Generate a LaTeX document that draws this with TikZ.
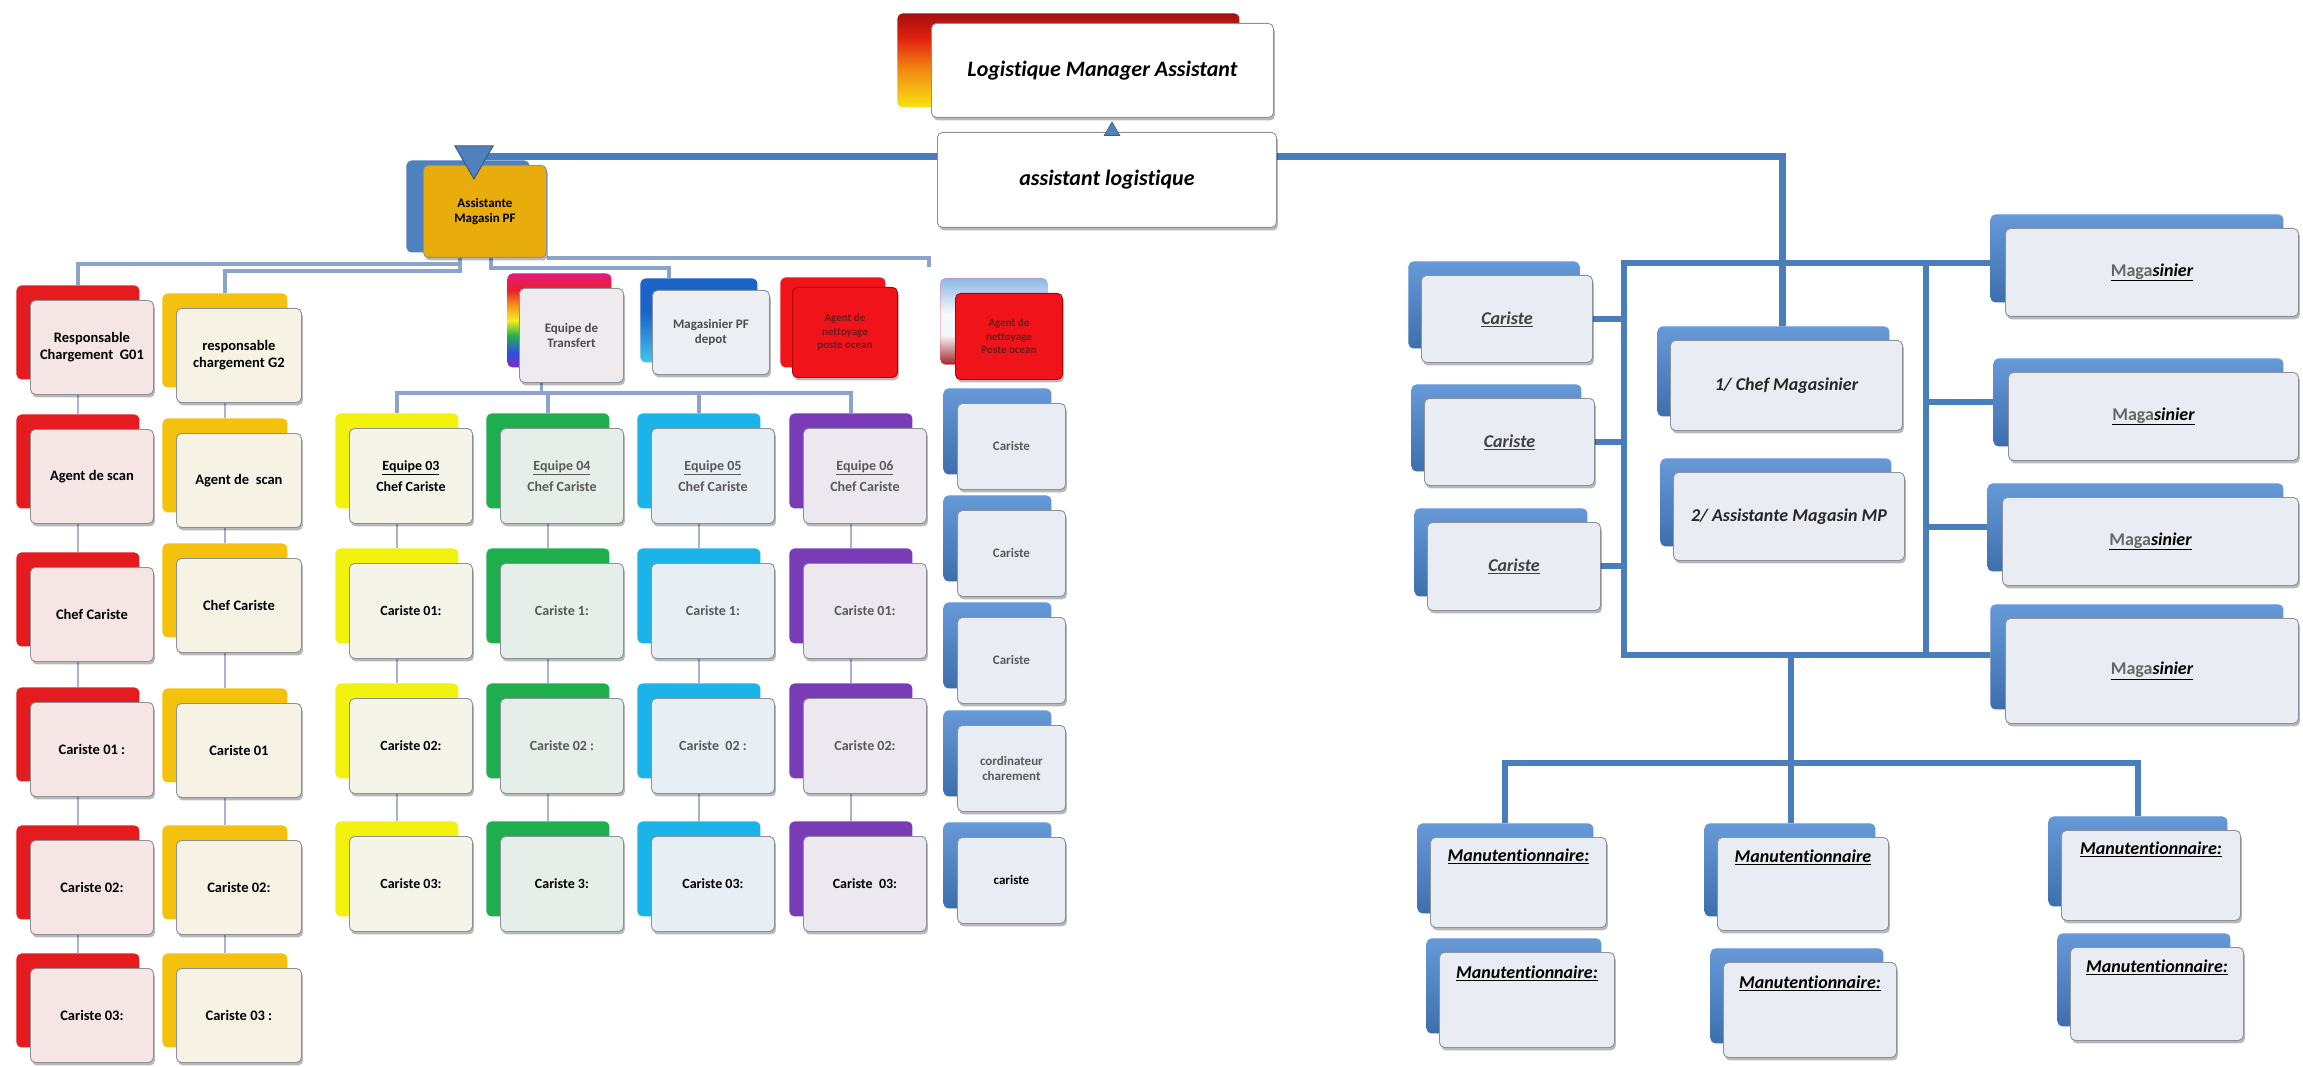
\documentclass[tikz,border=0pt]{standalone}
\usepackage{fontspec}
\setmainfont{Carlito}[Ligatures=NoCommon]
\usetikzlibrary{shadows,shapes.geometric,backgrounds}

% ---------- colours ----------
\definecolor{spineblue}{HTML}{4A7EBB}
\definecolor{busblue}{HTML}{8CA3CB}
\definecolor{tickblue}{HTML}{A7B5D3}
\definecolor{cardedge}{HTML}{8C9199}
\definecolor{cRed}{HTML}{E41B1F}
\definecolor{cRedF}{HTML}{F6E5E5}
\definecolor{cGold}{HTML}{F4C20D}
\definecolor{cGoldF}{HTML}{F6F3E5}
\definecolor{cYel}{HTML}{F2F20E}
\definecolor{cYelF}{HTML}{F4F4E8}
\definecolor{cGreen}{HTML}{1FAE4E}
\definecolor{cGreenF}{HTML}{E6EEEA}
\definecolor{cCyan}{HTML}{1CB3E8}
\definecolor{cCyanF}{HTML}{E7EEF4}
\definecolor{cPurp}{HTML}{7A3CB6}
\definecolor{cPurpF}{HTML}{EBE8EF}
\definecolor{cBlue}{HTML}{4F81BD}
\definecolor{cBlueTop}{HTML}{6699D8}
\definecolor{cBlueBot}{HTML}{3E6FAD}
\definecolor{cBlueF}{HTML}{E9EDF3}
\definecolor{cPinkF}{HTML}{EFEAEE}
\definecolor{cDepotF}{HTML}{EDEEF3}
\definecolor{cOrange}{HTML}{E8AC0D}
\definecolor{agentred}{HTML}{F0131A}
\definecolor{agenttxt}{HTML}{6E1C1C}
\definecolor{rbViolet}{HTML}{7B2FBE}
\definecolor{rbBlue}{HTML}{2F4FE0}
\definecolor{rbGreen}{HTML}{22B14C}
\definecolor{rbYellow}{HTML}{F5EF1A}
\definecolor{rbOrange}{HTML}{F7941D}
\definecolor{rbRed}{HTML}{E8202A}
\definecolor{rbPink}{HTML}{E6197F}
\definecolor{fireTop}{HTML}{A50F0F}
\definecolor{fireRed}{HTML}{E0200F}
\definecolor{fireOrange}{HTML}{F38A12}
\definecolor{fireYellow}{HTML}{F7E312}
\definecolor{skyTop}{HTML}{8DB8E6}
\definecolor{skyMid}{HTML}{F4F7FB}
\definecolor{skyRed}{HTML}{A0262B}
\definecolor{depotTop}{HTML}{1A64C8}
\definecolor{depotBot}{HTML}{46C3F0}

% ---------- shadings for the coloured back cards ----------
\pgfdeclareverticalshading{rainbowband}{100bp}{color(0bp)=(rbViolet); color(25bp)=(rbViolet); color(33bp)=(rbBlue); color(42bp)=(rbGreen); color(50bp)=(rbYellow); color(58bp)=(rbOrange); color(66bp)=(rbRed); color(75bp)=(rbPink); color(100bp)=(rbPink)}
\pgfdeclareverticalshading{fireband}{100bp}{color(0bp)=(fireYellow); color(25bp)=(fireYellow); color(45bp)=(fireOrange); color(62bp)=(fireRed); color(75bp)=(fireTop); color(100bp)=(fireTop)}
\pgfdeclareverticalshading{skyred}{100bp}{color(0bp)=(skyRed); color(25bp)=(skyRed); color(42bp)=(skyMid); color(55bp)=(skyMid); color(75bp)=(skyTop); color(100bp)=(skyTop)}
\pgfdeclareverticalshading{depotband}{100bp}{color(0bp)=(depotBot); color(25bp)=(depotBot); color(55bp)=(depotTop); color(75bp)=(depotTop); color(100bp)=(depotTop)}

% ---------- fonts ----------
\newcommand\fLeft{\bfseries\fontsize{14.5}{17}\selectfont}
\newcommand\fTeam{\bfseries\fontsize{14}{16.5}\selectfont}
\newcommand\fSmall{\bfseries\fontsize{13}{15.5}\selectfont}
\newcommand\fAgent{\bfseries\fontsize{11}{13.5}\selectfont}
\newcommand\fRight{\bfseries\itshape\fontsize{18}{21}\selectfont}
\newcommand\fTop{\bfseries\itshape\fontsize{22}{26}\selectfont}
\newcommand\magword{\underline{{\upshape\color{black!60}Maga}sinier}}

% one card: style, name, top-left corner, width, height, text
\newcommand\crd[6]{\node[#1,minimum width=#4pt,minimum height=#5pt,anchor=north west] (#2) at (#3) {#6};}

\pgfdeclarelayer{paper}
\pgfsetlayers{paper,background,main}

\tikzset{
  card/.style={draw=cardedge, line width=0.9pt, rounded corners=5pt, align=center,
    inner sep=2pt, drop shadow={shadow xshift=1.5pt, shadow yshift=-3pt, opacity=0.28, fill=black}},
  behind/.style n args={3}{copy shadow={shadow xshift=#1, shadow yshift=#2, draw=none, #3}},
  redcard/.style={behind={-14pt}{15pt}{fill=cRed}, card, fill=cRedF, font=\fLeft},
  goldcard/.style={behind={-14pt}{15pt}{fill=cGold}, card, fill=cGoldF, font=\fLeft},
  yelcard/.style={behind={-14pt}{15pt}{fill=cYel}, card, fill=cYelF, font=\fTeam},
  greencard/.style={behind={-14pt}{15pt}{fill=cGreen}, card, fill=cGreenF, font=\fTeam},
  cyancard/.style={behind={-14pt}{15pt}{fill=cCyan}, card, fill=cCyanF, font=\fTeam},
  purpcard/.style={behind={-14pt}{15pt}{fill=cPurp}, card, fill=cPurpF, font=\fTeam},
  bluecard/.style={behind={-14pt}{15pt}{top color=cBlueTop, bottom color=cBlueBot}, card, fill=cBlueF, font=\fSmall},
  rcard/.style={behind={-13pt}{14pt}{top color=cBlueTop, bottom color=cBlueBot}, card, fill=cBlueF, font=\fRight},
  mgcard/.style={behind={-15pt}{14pt}{top color=cBlueTop, bottom color=cBlueBot}, card, fill=cBlueF, font=\fRight},
  mtext/.style={text height=14pt, text depth=56pt},
  topcard/.style={behind={-34pt}{10pt}{shade, shading=fireband}, card, fill=white, font=\fTop},
  ampcard/.style={behind={-17pt}{5pt}{fill=cBlue}, card, fill=cOrange, font=\fSmall},
  transfercard/.style={behind={-12pt}{15pt}{shade, shading=rainbowband}, card, fill=cPinkF, font=\fSmall, text=black!70},
  depotcard/.style={behind={-12pt}{12pt}{shade, shading=depotband}, card, fill=cDepotF, font=\fSmall, text=black!70},
  agentcard/.style={behind={-12pt}{10pt}{fill=agentred}, card, draw=red!70!black, fill=agentred, font=\fAgent, text=agenttxt},
  agentcardb/.style={behind={-15pt}{15pt}{shade, shading=skyred}, card, draw=red!70!black, fill=agentred, font=\fAgent, text=agenttxt},
  blurtext/.style={text=black!65},
  downtri/.style={regular polygon, regular polygon sides=3, shape border rotate=180, minimum size=44pt,
    inner sep=0pt, fill=cBlue, draw=cBlue!70!black, line width=1pt},
  uptri/.style={regular polygon, regular polygon sides=3, minimum size=18pt,
    inner sep=0pt, fill=cBlue, draw=cBlue!70!black, line width=0.6pt},
  topspine/.style={draw=spineblue, line width=7pt},
  spine/.style={draw=spineblue, line width=6pt},
  bus/.style={draw=busblue, line width=3.5pt},
  tick/.style={draw=tickblue, line width=2.5pt}
}

\begin{document}
\begin{tikzpicture}[x=1pt,y=-1pt]
\begin{pgfonlayer}{paper}
  \fill[white] (0,0) rectangle (2303,1067);
\end{pgfonlayer}
\useasboundingbox (0,0) rectangle (2303,1067);

% ---------- head ----------
\crd{topcard}{lma}{931,23}{342}{94}{Logistique Manager Assistant}
\crd{card,fill=white,font=\fTop}{al}{937,132}{339}{95}{assistant logistique}
\node[uptri] (altri) at (1112,131) {};

\crd{ampcard}{amp}{423,165}{123}{92}{Assistante\\Magasin PF}
\node[downtri] (tri) at (474,157) {};

% ---------- loading groups ----------
\crd{redcard}{r1}{30,300}{123}{94}{Responsable\\Chargement~~G01}
\crd{redcard}{r2}{30,429}{123}{94}{Agent de scan}
\crd{redcard}{r3}{30,567}{123}{94}{Chef Cariste}
\crd{redcard}{r4}{30,702}{123}{94}{Cariste 01 :}
\crd{redcard}{r5}{30,840}{123}{94}{Cariste 02:}
\crd{redcard}{r6}{30,968}{123}{94}{Cariste 03:}

\crd{goldcard}{g1}{176,308}{125}{94}{responsable\\chargement G2}
\crd{goldcard}{g2}{176,433}{125}{94}{Agent de~~scan}
\crd{goldcard}{g3}{176,558}{125}{94}{Chef Cariste}
\crd{goldcard}{g4}{176,703}{125}{94}{Cariste 01}
\crd{goldcard}{g5}{176,840}{125}{94}{Cariste 02:}
\crd{goldcard}{g6}{176,968}{125}{94}{Cariste 03 :}

% ---------- transfer and depot ----------
\crd{transfercard}{et}{519,288}{104}{94}{Equipe de\\Transfert}
\crd{depotcard}{mpf}{652,290}{117}{84}{Magasinier PF\\depot}
\crd{agentcard}{an1}{792,287}{105}{90}{Agent de\\nettoyage\\poste ocean}
\crd{agentcardb}{an2}{955,293}{107}{86}{Agent de\\nettoyage\\Poste ocean}

% ---------- transfer teams ----------
\crd{yelcard}{ya1}{349,428}{123}{95}{\underline{Equipe 03}\\[4pt]Chef Cariste}
\crd{yelcard}{ya2}{349,563}{123}{95}{Cariste 01:}
\crd{yelcard}{ya3}{349,698}{123}{95}{Cariste 02:}
\crd{yelcard}{ya4}{349,836}{123}{95}{Cariste 03:}

\crd{greencard,blurtext}{ga1}{500,428}{123}{95}{\underline{Equipe 04}\\[4pt]Chef Cariste}
\crd{greencard,blurtext}{ga2}{500,563}{123}{95}{Cariste 1:}
\crd{greencard,blurtext}{ga3}{500,698}{123}{95}{Cariste 02 :}
\crd{greencard}{ga4}{500,836}{123}{95}{Cariste 3:}

\crd{cyancard,blurtext}{ca1x}{651,428}{123}{95}{\underline{Equipe 05}\\[4pt]Chef Cariste}
\crd{cyancard,blurtext}{ca2x}{651,563}{123}{95}{Cariste 1:}
\crd{cyancard,blurtext}{ca3x}{651,698}{123}{95}{Cariste~~02 :}
\crd{cyancard}{ca4x}{651,836}{123}{95}{Cariste 03:}

\crd{purpcard,blurtext}{pa1}{803,428}{123}{95}{\underline{Equipe 06}\\[4pt]Chef Cariste}
\crd{purpcard,blurtext}{pa2}{803,563}{123}{95}{Cariste 01:}
\crd{purpcard,blurtext}{pa3}{803,698}{123}{95}{Cariste 02:}
\crd{purpcard}{pa4}{803,836}{123}{95}{Cariste~~03:}

% ---------- blue column ----------
\crd{bluecard,blurtext}{b1}{957,403}{108}{86}{Cariste}
\crd{bluecard,blurtext}{b2}{957,510}{108}{86}{Cariste}
\crd{bluecard,blurtext}{b3}{957,617}{108}{86}{Cariste}
\crd{bluecard,blurtext}{b4}{957,725}{108}{86}{cordinateur\\charement}
\crd{bluecard}{b5}{957,837}{108}{86}{cariste}

% ---------- raw material store ----------
\crd{rcard,text=black!75}{ca1}{1421,275}{171}{87}{\underline{Cariste}}
\crd{rcard,text=black!75}{ca2}{1424,398}{170}{87}{\underline{Cariste}}
\crd{rcard,text=black!75}{ca3}{1427,522}{173}{88}{\underline{Cariste}}
\crd{rcard,text=black!85}{chef}{1670,340}{232}{90}{1/ Chef Magasinier}
\crd{rcard,text=black!85}{mpasst}{1673,472}{231}{88}{2/ Assistante Magasin MP}
\crd{mgcard}{mg1}{2005,228}{293}{88}{\magword}
\crd{mgcard}{mg2}{2008,372}{290}{88}{\magword}
\crd{mgcard}{mg3}{2002,497}{296}{88}{\magword}
\crd{mgcard}{mg4}{2005,618}{293}{105}{\magword}

\crd{rcard,mtext}{mt1}{1430,837}{176}{90}{\underline{Manutentionnaire:}}
\crd{rcard,mtext}{mt1b}{1439,952}{175}{95}{\underline{Manutentionnaire:}}
\crd{rcard,mtext}{mt2}{1717,837}{171}{93}{\underline{Manutentionnaire}}
\crd{rcard,mtext}{mt2b}{1723,962}{173}{95}{\underline{Manutentionnaire:}}
\crd{rcard,mtext}{mt3}{2061,830}{179}{90}{\underline{Manutentionnaire:}}
\crd{rcard,mtext}{mt3b}{2070,947}{173}{93}{\underline{Manutentionnaire:}}

% ---------- connectors (drawn under the cards) ----------
\begin{scope}[on background layer]
  % main spine
  \draw[topspine] (tri.center) -| ([xshift=-4pt]chef.north);

  % buses out of Assistante Magasin PF
  \coordinate (farstub) at (929,267);
  \draw[bus] ([xshift=-25pt]amp.south) -- ++(0,6) -| ([xshift=-14pt,yshift=15pt]r1.north);
  \draw[bus] ([xshift=-25pt]amp.south) -- ++(0,13) -| ([xshift=-14pt,yshift=15pt]g1.north);
  \draw[bus] (amp.south east) -| (farstub);
  \draw[bus] ([xshift=6pt]amp.south) -- ++(0,10) -| ([xshift=-42pt,yshift=12pt]mpf.north);

  % transfer bus
  \draw[bus] ([xshift=-30pt]et.south) -- ++(0,10) coordinate (etjoin);
  \coordinate (ytop) at ([xshift=-14pt,yshift=15pt]ya1.north);
  \coordinate (gtop) at ([xshift=-14pt,yshift=15pt]ga1.north);
  \coordinate (ctop) at ([xshift=-14pt,yshift=15pt]ca1x.north);
  \coordinate (ptop) at ([xshift=-14pt,yshift=15pt]pa1.north);
  \draw[bus] (ytop) |- (etjoin) -| (ptop);
  \draw[bus] (gtop |- etjoin) -- (gtop);
  \draw[bus] (ctop |- etjoin) -- (ctop);

  % short links inside each column
  \foreach \a/\b in {r1/r2,r2/r3,r3/r4,r4/r5,r5/r6,
                     g1/g2,g2/g3,g3/g4,g4/g5,g5/g6,
                     ya1/ya2,ya2/ya3,ya3/ya4,
                     ga1/ga2,ga2/ga3,ga3/ga4,
                     ca1x/ca2x,ca2x/ca3x,ca3x/ca4x,
                     pa1/pa2,pa2/pa3,pa3/pa4}
    \draw[tick] ([xshift=-14pt]\a.south) -- ([xshift=-14pt,yshift=15pt]\b.north);

  % raw material store frame
  \coordinate (LT) at (1624,263);
  \coordinate (LB) at (1624,655);
  \coordinate (RT) at (1926,263);
  \coordinate (RB) at (1926,655);
  \draw[spine] (mg1.west |- LT) -- (LT) -- (LB) -- (mg4.west |- LB);
  \draw[spine] (RT) -- (RB);
  \foreach \c in {ca1,ca2,ca3} \draw[spine] (LT) |- (\c.east);
  \foreach \m in {mg2,mg3} \draw[spine] (RT) |- ([yshift=14pt]\m.west);

  % handlers
  \coordinate (MH) at (1791,763);
  \coordinate (mt1top) at ([xshift=-13pt,yshift=14pt]mt1.north);
  \coordinate (mt2top) at ([xshift=-13pt,yshift=14pt]mt2.north);
  \coordinate (mt3top) at ([xshift=-13pt,yshift=14pt]mt3.north);
  \draw[spine] (MH |- LB) -- (MH) -- (MH |- mt2top);
  \draw[spine] (mt1top) -- (mt1top |- MH) -- (mt3top |- MH) -- (mt3top);
\end{scope}
\end{tikzpicture}
\end{document}
